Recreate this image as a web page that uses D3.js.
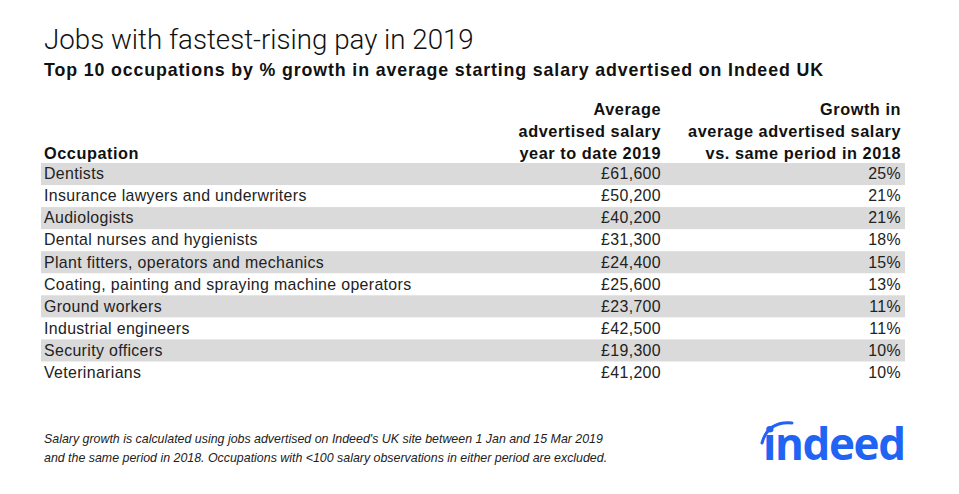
<!DOCTYPE html>
<html><head><meta charset="utf-8">
<script src="https://cdn.jsdelivr.net/npm/d3@7"></script>
<style>
body{margin:0;background:#fff;}
svg{display:block;}
</style></head><body>
<script>
const title = "Jobs with fastest-rising pay in 2019";
const subtitle = "Top 10 occupations by % growth in average starting salary advertised on Indeed UK";
const occupations = ["Dentists","Insurance lawyers and underwriters","Audiologists","Dental nurses and hygienists","Plant fitters, operators and mechanics","Coating, painting and spraying machine operators","Ground workers","Industrial engineers","Security officers","Veterinarians"];
const salaries = [61600,50200,40200,31300,24400,25600,23700,42500,19300,41200];
const growth = [25,21,21,18,15,13,11,11,10,10];
const headerOcc = ["Occupation"];
const headerSalary = ["Average","advertised salary","year to date 2019"];
const headerGrowth = ["Growth in","average advertised salary","vs. same period in 2018"];
const footnote = ["Salary growth is calculated using jobs advertised on Indeed's UK site between 1 Jan and 15 Mar 2019","and the same period in 2018. Occupations with <100 salary observations in either period are excluded."];

const W=959,H=494;
const svg=d3.select("body").append("svg").attr("width",W).attr("height",H);
const font="'Liberation Sans', Arial, Helvetica, sans-serif";

svg.append("text").attr("x",44).attr("y",49).text(title)
  .attr("font-family","Roboto, 'Liberation Sans', sans-serif").attr("font-weight",300)
  .attr("font-size",27.7).attr("fill","#111");
svg.append("text").attr("x",44).attr("y",76).text(subtitle)
  .attr("font-family",font).attr("font-weight","bold").attr("font-size",17.8)
  .attr("textLength",779).attr("lengthAdjust","spacing").attr("fill","#111");

const rows=d3.range(occupations.length);
const y=d3.scaleBand().domain(rows).range([163,163+22.05*10]);
const colX={occ:44,sal:661,gro:901};

svg.append("g").selectAll("rect").data(rows.filter(i=>i%2===0)).join("rect")
  .attr("x",41).attr("width",905-41).attr("y",i=>y(i)).attr("height",y.bandwidth())
  .attr("fill","#dadada");

const fmt=d3.format(",");
const g=svg.append("g").attr("font-family",font).attr("font-size",15.9).attr("fill","#222");
const by=i=>y(i)+y.bandwidth()/2+5.3;
g.selectAll("text.occ").data(rows).join("text").attr("class","occ")
  .attr("x",colX.occ).attr("y",by).attr("letter-spacing",0.35).text(i=>occupations[i]);
g.selectAll("text.sal").data(rows).join("text").attr("class","sal")
  .attr("x",colX.sal).attr("text-anchor","end").attr("letter-spacing",0.35)
  .attr("y",by).text(i=>"£"+fmt(salaries[i]));
g.selectAll("text.gro").data(rows).join("text").attr("class","gro")
  .attr("x",colX.gro).attr("text-anchor","end").attr("letter-spacing",0.35)
  .attr("y",by).text(i=>growth[i]+"%");

const hg=svg.append("g").attr("font-family",font).attr("font-weight","bold").attr("font-size",16.3)
  .attr("letter-spacing",0.55).attr("fill","#111");
const hy=[115,137,159];
hg.append("text").attr("x",colX.occ).attr("y",hy[2]).text(headerOcc[0]);
hg.selectAll("text.hs").data(headerSalary).join("text").attr("class","hs")
  .attr("x",colX.sal).attr("text-anchor","end").attr("y",(d,i)=>hy[i]).text(d=>d);
hg.selectAll("text.hgr").data(headerGrowth).join("text").attr("class","hgr")
  .attr("x",colX.gro).attr("text-anchor","end").attr("y",(d,i)=>hy[i]).text(d=>d);

svg.append("g").attr("font-family",font).attr("font-style","italic").attr("font-size",12.4).attr("fill","#222")
  .selectAll("text").data(footnote).join("text")
  .attr("x",44).attr("y",(d,i)=>443+i*18.5).text(d=>d);

// Indeed logo
const logo=svg.append("g");
logo.append("text").attr("x",763).attr("y",460).text("indeed")
  .attr("font-family","'Open Sans', Arial, sans-serif").attr("font-weight","bold")
  .attr("font-size",44).attr("letter-spacing",-1.4).attr("fill","#2164f3");
logo.append("path").attr("d","M762,443 Q768,421 792,423").attr("fill","none")
  .attr("stroke","#2164f3").attr("stroke-width",3).attr("stroke-linecap","round");
</script>
</body></html>
